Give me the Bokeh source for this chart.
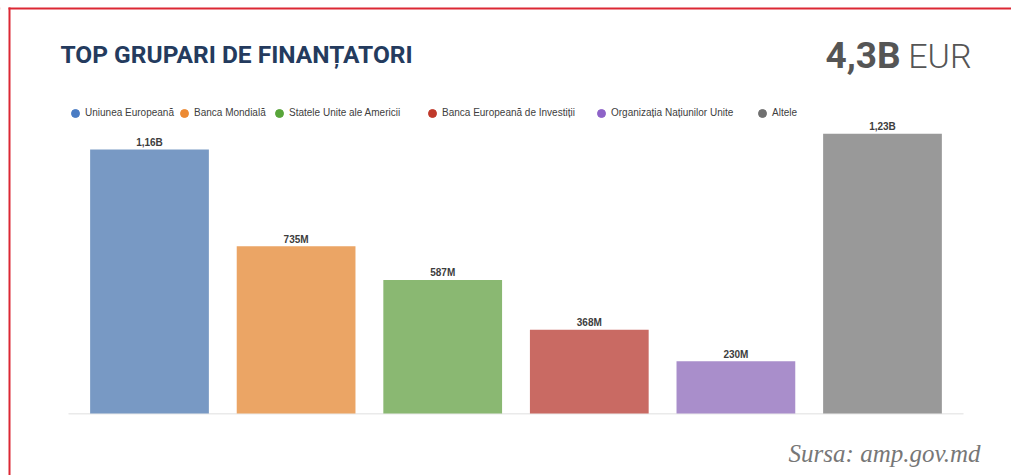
from bokeh.plotting import figure
from bokeh.models import ColumnDataSource, Range1d, Label, Legend, LegendItem, BoxAnnotation, Span
from bokeh.core.properties import value
from bokeh.embed import file_html
from bokeh.resources import INLINE

# ---- data ----
categories = ["Uniunea Europeană", "Banca Mondială", "Statele Unite ale Americii",
              "Banca Europeană de Investiții", "Organizația Națiunilor Unite", "Altele"]
values_mil = [1160, 735, 587, 368, 230, 1230]
value_labels = ["1,16B", "735M", "587M", "368M", "230M", "1,23B"]
bar_colors = ["#7899C4", "#EBA565", "#8AB872", "#C96A63", "#A98ECB", "#999999"]
legend_colors = ["#4A7CC4", "#EC8A33", "#58A53A", "#C0392B", "#8E63C8", "#707070"]
title_text = "TOP GRUPARI DE FINANȚATORI"
total_text = "4,3B"
unit_text = "EUR"
source_text = "Sursa: amp.gov.md"

idx = list(range(len(categories)))
src = ColumnDataSource(dict(i=idx, cat=categories, val=values_mil, lbl=value_labels,
                            color=bar_colors, lcolor=legend_colors))

p = figure(width=1011, height=475,
           x_range=Range1d(-1.0164, 5.880),
           y_range=Range1d(-272.5, 1815.4),
           output_backend="svg", toolbar_location=None,
           min_border=0, x_axis_location=None, y_axis_location=None,
           outline_line_color=None, background_fill_color="white",
           border_fill_color="white")
p.xgrid.visible = False
p.ygrid.visible = False

def strip(left, right, top, bottom, color, level="underlay"):
    return BoxAnnotation(left=left, right=right, top=top, bottom=bottom,
                         left_units="screen", right_units="screen",
                         top_units="screen", bottom_units="screen",
                         fill_color=color, fill_alpha=1, line_color=None, line_alpha=0,
                         level=level)

# baseline (category axis line)
p.add_layout(strip(68, 963, 62.5, 61, "#EAEAEA"))

# red frame (top and left edges visible)
p.add_layout(Span(location=467, dimension="width", location_units="screen",
                  line_color="#DC2834", line_width=2, level="underlay"))
p.add_layout(strip(-5, 8, 470, 465, "white", level="annotation"))
p.add_layout(strip(8, 10, 468, -5, "#DC2834", level="overlay"))

p.vbar(x="i", top="val", bottom=0, width=0.81, source=src, fill_color="color", line_color=None)

p.text(x="i", y="val", text="lbl", source=src, text_align="center", text_baseline="alphabetic",
       y_offset=-7, text_font=value("Liberation Sans"), text_font_style="bold",
       text_font_size="10px", text_color="#3D3D3D")

# legend glyph source (hidden renderer, used only for legend circles)
legend_r = p.scatter(x="i", y="val", source=src, marker="circle", fill_color="lcolor",
                     line_color="lcolor", size=8, visible=False)

legend_x = [65, 174, 269, 422, 591, 752]
for k, (cat, lx) in enumerate(zip(categories, legend_x)):
    leg = Legend(items=[LegendItem(label=cat, renderers=[legend_r], index=k)], location=(lx, 352.5),
                 orientation="horizontal", padding=0, spacing=0, margin=0,
                 border_line_color=None, background_fill_alpha=0,
                 glyph_width=20, glyph_height=20, label_standoff=-5, label_height=20,
                 label_text_font="Liberation Sans", label_text_font_size="10px",
                 label_text_color="#404040")
    p.add_layout(leg)

# texts
p.add_layout(Label(x=60, y=421, x_units="screen", y_units="screen", text=title_text,
                   text_font="Roboto", text_font_style="bold", text_font_size="24.5px",
                   text_color="#243B5E", text_baseline="alphabetic", text_align="left"))
p.add_layout(Label(x=825, y=420, x_units="screen", y_units="screen", text=total_text,
                   text_font="Roboto", text_font_style="bold", text_font_size="37px",
                   text_color="#555555", text_baseline="alphabetic", text_align="left"))
p.add_layout(Label(x=971, y=420, x_units="screen", y_units="screen", text=unit_text,
                   text_font="Roboto Light, Open Sans Light, Roboto", text_font_style="normal",
                   text_font_size="34px",
                   text_color="#555555", text_baseline="alphabetic", text_align="right"))
p.add_layout(Label(x=980, y=22, x_units="screen", y_units="screen", text=source_text,
                   text_font="Liberation Serif", text_font_style="italic", text_font_size="25px",
                   text_color="#777777", text_baseline="alphabetic", text_align="right"))

open("out.html", "w").write(file_html(p, INLINE))
